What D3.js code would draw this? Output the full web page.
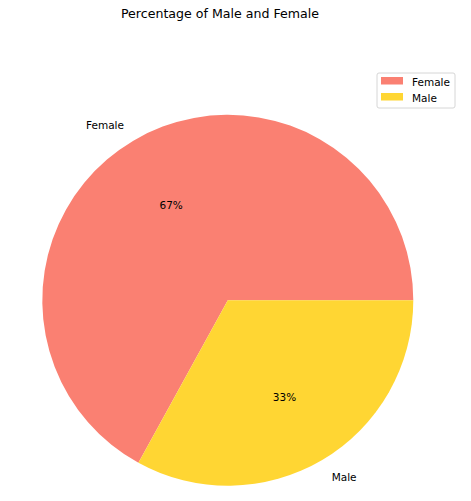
<!DOCTYPE html>
<html><head><meta charset="utf-8">
<script src="https://cdn.jsdelivr.net/npm/d3@7"></script>
<style>body{margin:0;background:#fff}svg{display:block}text{font-family:"DejaVu Sans",sans-serif}</style>
</head><body>
<script>
const categories = ["Female", "Male"];
const values = [67, 33];
const colors = ["#FA8072", "#FFD633"];
const title = "Percentage of Male and Female";

const W = 471, H = 501;
const cx = 227.8, cy = 300.3, R = 185.5;
const svg = d3.select("body").append("svg").attr("width", W).attr("height", H);

svg.append("text").attr("x", 220).attr("y", 18).attr("text-anchor", "middle")
  .attr("font-size", 12.6).attr("fill", "#000").text(title);

const total = d3.sum(values);
// matplotlib style: start at 3 o'clock, counterclockwise
const pie = d3.pie().sort(null).value(d => d)
  .startAngle(Math.PI / 2).endAngle(Math.PI / 2 - 2 * Math.PI);
const arcs = pie(values);
const arc = d3.arc().innerRadius(0).outerRadius(R);
const g = svg.append("g").attr("transform", `translate(${cx},${cy})`);
g.selectAll("path").data(arcs).join("path")
  .attr("d", arc).attr("fill", (d, i) => colors[i]);

arcs.forEach((a, i) => {
  const mid = (a.startAngle + a.endAngle) / 2; // d3 angle: 0 = up, clockwise
  const sx = Math.sin(mid), sy = -Math.cos(mid);
  g.append("text").attr("x", sx * R * 1.1).attr("y", sy * R * 1.1 + 0.6)
    .attr("text-anchor", sx < 0 ? "end" : "start").attr("dominant-baseline", "central")
    .attr("font-size", 10.5).text(categories[i]);
  g.append("text").attr("x", sx * R * 0.6).attr("y", sy * R * 0.6 + 0.6)
    .attr("text-anchor", "middle").attr("dominant-baseline", "central")
    .attr("font-size", 10.5).text(Math.round(values[i] / total * 100) + "%");
});

const lg = svg.append("g").attr("transform", "translate(377,73)");
lg.append("rect").attr("width", 78).attr("height", 35).attr("rx", 2)
  .attr("fill", "#fff").attr("stroke", "#d6d6d6");
categories.forEach((c, i) => {
  lg.append("rect").attr("x", 4).attr("y", 4 + i * 16).attr("width", 22).attr("height", 7.5).attr("fill", colors[i]);
  lg.append("text").attr("x", 35).attr("y", 8.5 + i * 16).attr("dominant-baseline", "central")
    .attr("font-size", 10.5).text(c);
});
</script>
</body></html>
